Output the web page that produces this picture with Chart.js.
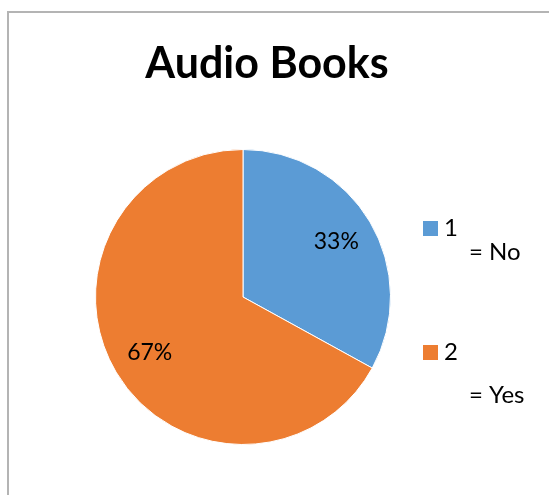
<!DOCTYPE html>
<html>
<head>
<meta charset="utf-8">
<script src="https://cdn.jsdelivr.net/npm/chart.js@4/dist/chart.umd.min.js"></script>
<style>
  html, body { margin: 0; padding: 0; background: #fff; overflow: hidden; }
  #frame {
    position: absolute; left: 7px; top: 11px; width: 600px; height: 600px;
    border-left: 2px solid #b4b4b4; border-top: 2px solid #b4b4b4;
  }
  #chart { position: absolute; left: 0; top: 0; }
</style>
</head>
<body>
<div id="frame"></div>
<canvas id="chart" width="549" height="495"></canvas>
<script>
'use strict'

const chartTitle = 'Audio Books'
const categories = ['1', '2']
const categoryNotes = ['= No', '= Yes']
const shares = [33, 67]
const sliceColors = ['#5B9BD5', '#ED7D31']

const fontFamily = 'Lato, "Open Sans", sans-serif'

// title, legend and percent labels drawn by hand (legend labels wrap in the original)
const decorations = {
  id: 'decorations',
  afterDraw (chart) {
    const ctx = chart.ctx
    ctx.save()
    ctx.fillStyle = '#000'

    ctx.font = `bold 43px ${fontFamily}`
    ctx.textAlign = 'center'
    ctx.textBaseline = 'alphabetic'
    ctx.fillText(chartTitle, 267, 78)

    const total = shares.reduce((a, b) => a + b, 0)
    const arcs = chart.getDatasetMeta(0).data
    ctx.font = `23px ${fontFamily}`
    ctx.textBaseline = 'middle'
    arcs.forEach((arc, i) => {
      const p = arc.getProps(['x', 'y', 'startAngle', 'endAngle', 'outerRadius'], true)
      const mid = (p.startAngle + p.endAngle) / 2
      const r = p.outerRadius * 0.735
      const pct = Math.round(shares[i] / total * 100) + '%'
      ctx.fillText(pct, p.x + Math.cos(mid) * r, p.y + Math.sin(mid) * r)
    })

    const rows = [221, 345]
    ctx.font = `24px ${fontFamily}`
    ctx.textAlign = 'left'
    ctx.textBaseline = 'alphabetic'
    categories.forEach((cat, i) => {
      const top = rows[i]
      ctx.fillStyle = sliceColors[i]
      ctx.fillRect(423, top, 15, 15)
      ctx.fillStyle = '#000'
      ctx.fillText(cat, 444, top + 15)
      ctx.fillText(categoryNotes[i], 469, top + (i === 0 ? 39 : 58))
    })
    ctx.restore()
  }
}

new Chart(document.getElementById('chart'), {
  type: 'pie',
  data: {
    labels: categories.map((c, i) => c + ' ' + categoryNotes[i]),
    datasets: [
      {
        data: shares,
        backgroundColor: sliceColors,
        borderColor: '#ffffff',
        borderWidth: 1
      }
    ]
  },
  options: {
    responsive: false,
    animation: false,
    layout: {
      padding: { left: 95, top: 149, right: 158, bottom: 50 }
    },
    plugins: {
      legend: { display: false },
      title: { display: false },
      tooltip: { enabled: false }
    }
  },
  plugins: [decorations]
})
</script>
</body>
</html>
